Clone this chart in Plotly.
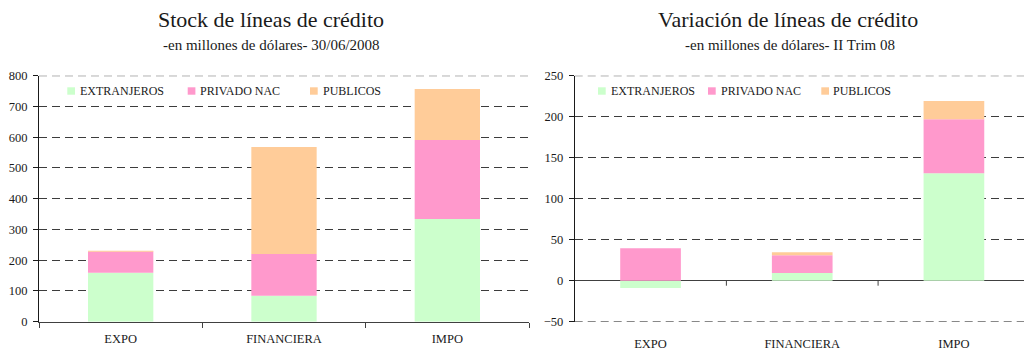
import plotly.graph_objects as go

# ---- data (USD millions) ----
categories = ["EXPO", "FINANCIERA", "IMPO"]
series_names = ["EXTRANJEROS", "PRIVADO NAC", "PUBLICOS"]
series_colors = ["#CCFFCC", "#FF99CC", "#FFCC99"]

# Stock of credit lines at 30/06/2008
stock_extranjeros = [159, 84, 334]
stock_privado_nac = [69, 136, 257]
stock_publicos = [2, 348, 166]

# Change in credit lines, Q2 2008
var_extranjeros = [-9, 9.4, 131]
var_privado_nac = [39.5, 21.5, 66]
var_publicos = [0, 3.7, 22]

left_title = "Stock de líneas de crédito"
left_subtitle = "-en millones de dólares- 30/06/2008"
right_title = "Variación de líneas de crédito"
right_subtitle = "-en millones de dólares- II Trim 08"

left_range = [0, 800]
right_range = [-50, 250]

# ---- layout helpers ----
W, H = 1024, 351
FONT = "Liberation Serif, Times New Roman, serif"
TXT = "#1a1a1a"
GRID = "#3c3c3c"
DASH = "8px,5px"


def fx(px):
    return px / W


def fy(py):
    return 1 - py / H


PLOT_TOP, PLOT_BOTTOM = 75.7, 321.7
y_domain = [fy(PLOT_BOTTOM), fy(PLOT_TOP)]

fig = go.Figure()

left_series = [stock_extranjeros, stock_privado_nac, stock_publicos]
right_series = [var_extranjeros, var_privado_nac, var_publicos]

for name, color, vals in zip(series_names, series_colors, left_series):
    fig.add_trace(go.Bar(x=categories, y=vals, name=name, marker_color=color,
                         marker_line_width=0, width=0.4, xaxis="x", yaxis="y",
                         showlegend=False))
for name, color, vals in zip(series_names, series_colors, right_series):
    fig.add_trace(go.Bar(x=categories, y=vals, name=name, marker_color=color,
                         marker_line_width=0, width=0.4, xaxis="x2", yaxis="y2",
                         showlegend=False))

tick_font = dict(family=FONT, size=12.5, color=TXT)
grid = dict(showgrid=True, gridcolor=GRID, gridwidth=1, griddash=DASH)

fig.update_layout(
    width=W, height=H,
    margin=dict(l=0, r=0, t=0, b=0),
    paper_bgcolor="white", plot_bgcolor="white",
    barmode="relative",
    font=dict(family=FONT, color=TXT),
    xaxis=dict(domain=[fx(39), fx(529)], anchor="y", type="category",
               range=[-0.5, len(categories) - 0.5], automargin=False,
               showline=True, linecolor="#404040", linewidth=1,
               ticks="outside", tickson="boundaries", ticklen=5,
               tickcolor="#404040", showgrid=False, tickfont=tick_font,
               ticklabelstandoff=5),
    yaxis=dict(domain=y_domain, anchor="x", range=left_range, dtick=100,
               automargin=False, showline=True, linecolor="#1a1a1a", linewidth=1,
               ticks="outside", ticklen=5, tickcolor="#1a1a1a",
               zeroline=False, tickfont=tick_font, ticklabelstandoff=3, **grid),
    xaxis2=dict(domain=[fx(574.7), 1], anchor="y2", type="category",
                range=[-0.5, 2.462], automargin=False, showline=False, ticks="",
                showgrid=False, tickfont=tick_font, ticklabelstandoff=13),
    yaxis2=dict(domain=y_domain, anchor="x2", range=right_range, dtick=50,
                automargin=False, showline=True, linecolor="#1a1a1a", linewidth=1,
                ticks="outside", ticklen=5, tickcolor="#1a1a1a",
                zeroline=True, zerolinecolor="#404040", zerolinewidth=1,
                tickfont=tick_font, ticklabelstandoff=3, **grid),
)

shapes = []

# dashed grid lines at the outer ends of the value ranges
for xref, yref, yval in [("x domain", "y", left_range[1]),
                         ("x2 domain", "y2", right_range[0]),
                         ("x2 domain", "y2", right_range[1])]:
    shapes.append(dict(type="line", xref=xref, yref=yref, x0=0, x1=1, y0=yval, y1=yval,
                       layer="below", line=dict(color=GRID, width=1, dash=DASH)))

# tick marks on the zero line of the right chart, between categories
for i in range(len(categories) - 1):
    shapes.append(dict(type="line", xref="x2", yref="y2", x0=i + 0.5, x1=i + 0.5,
                       ysizemode="pixel", yanchor=0, y0=0, y1=-5,
                       line=dict(color="#404040", width=1)))

# legends drawn as swatches + labels
annotations = []
legend_left = [(67.3, 77.7), (187.7, 197.7), (310.0, 321.0)]
legend_right = [(598.0, 608.7), (708.0, 719.3), (821.3, 831.3)]
LEG_Y = 91.0
for layout_pos in (legend_left, legend_right):
    for (sx, tx), name, color in zip(layout_pos, series_names, series_colors):
        shapes.append(dict(type="rect", xref="paper", yref="paper",
                           x0=fx(sx), x1=fx(sx + 7.7), y0=fy(LEG_Y + 3.7), y1=fy(LEG_Y - 3.7),
                           fillcolor=color, line=dict(width=0)))
        annotations.append(dict(text=name, xref="paper", yref="paper", x=fx(tx), y=fy(LEG_Y),
                                xanchor="left", yanchor="middle", showarrow=False,
                                font=dict(family=FONT, size=12, color=TXT)))

# titles
for text, cx, cy, size in [(left_title, 271, 19.5, 22), (left_subtitle, 271, 45, 15),
                           (right_title, 787.5, 19.5, 22), (right_subtitle, 790, 45, 15)]:
    annotations.append(dict(text=text, xref="paper", yref="paper", x=fx(cx), y=fy(cy),
                            xanchor="center", yanchor="middle", showarrow=False,
                            font=dict(family=FONT, size=size, color=TXT)))

fig.update_layout(shapes=shapes, annotations=annotations)

fig.write_html("out.html")
